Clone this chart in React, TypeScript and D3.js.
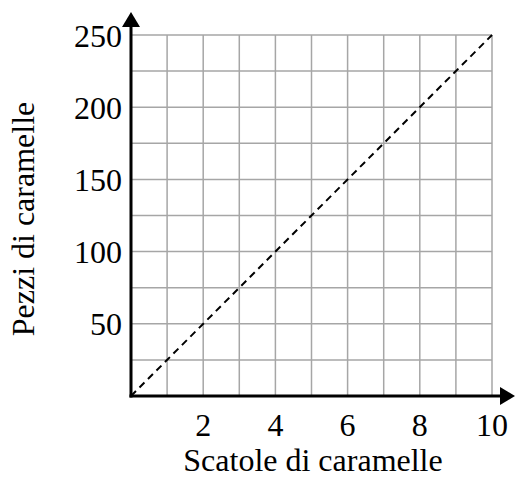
import React from "react";
import * as d3 from "d3";

const xTicks = [2, 4, 6, 8, 10];
const yTicks = [50, 100, 150, 200, 250];
const xGrid = [1, 2, 3, 4, 5, 6, 7, 8, 9, 10];
const yGrid = [25, 50, 75, 100, 125, 150, 175, 200, 225, 250];
const lineData: [number, number][] = [[0, 0], [10, 250]];
const xTitle = "Scatole di caramelle";
const yTitle = "Pezzi di caramelle";

export default function App() {
  const W = 516, H = 479;
  const x = d3.scaleLinear().domain([0, 10]).range([131, 492]);
  const y = d3.scaleLinear().domain([0, 250]).range([396, 35]);
  const line = d3.line<[number, number]>().x(d => x(d[0])).y(d => y(d[1]));
  const font = "'Liberation Serif', 'Times New Roman', serif";
  const x0 = x(0), y0 = y(0);
  return (
    <svg width={W} height={H} style={{ position: "absolute", left: 0, top: 0 }}>
      <rect width={W} height={H} fill="#fff" />
      {xGrid.map(v => (
        <line key={"vx" + v} x1={x(v)} x2={x(v)} y1={y(0)} y2={y(250)} stroke="#a6a6a6" strokeWidth={1.5} />
      ))}
      {yGrid.map(v => (
        <line key={"hy" + v} x1={x(0)} x2={x(10)} y1={y(v)} y2={y(v)} stroke="#a6a6a6" strokeWidth={1.5} />
      ))}
      <path d={line(lineData) || ""} fill="none" stroke="#000" strokeWidth={2} strokeDasharray="7,5" />
      <line x1={x0} x2={x0} y1={y0 + 1.5} y2={24} stroke="#000" strokeWidth={3} />
      <path d={`M${x0 - 9},${27} L${x0},${12} L${x0 + 9},${27} Z`} fill="#000" />
      <line x1={x0 - 1.5} x2={502} y1={y0} y2={y0} stroke="#000" strokeWidth={3} />
      <path d={`M${500},${y0 - 9} L${515},${y0} L${500},${y0 + 9} Z`} fill="#000" />
      {xTicks.map(v => (
        <text key={"xt" + v} x={x(v)} y={436} textAnchor="middle" fontFamily={font} fontSize={32} fill="#000">{v}</text>
      ))}
      {yTicks.map(v => (
        <text key={"yt" + v} x={122} y={y(v) + 11.5} textAnchor="end" fontFamily={font} fontSize={32} fill="#000">{v}</text>
      ))}
      <text x={313} y={471} textAnchor="middle" fontFamily={font} fontSize={32} fill="#000">{xTitle}</text>
      <text transform={`translate(34,219) rotate(-90)`} textAnchor="middle" fontFamily={font} fontSize={32} fill="#000">{yTitle}</text>
    </svg>
  );
}
